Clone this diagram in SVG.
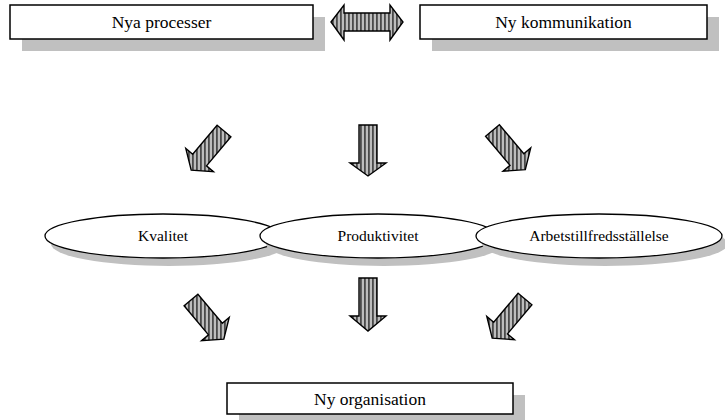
<svg xmlns="http://www.w3.org/2000/svg" width="725" height="420" viewBox="0 0 725 420">
  <defs>
    <!-- vertical hatching used inside the block arrows -->
    <pattern id="hatch" patternUnits="userSpaceOnUse" width="4" height="4">
      <rect width="4" height="4" fill="#bdbdbd"/>
      <rect x="0" width="1.8" height="4" fill="#4a4a4a"/>
    </pattern>
  </defs>
  <style>
    .shadow { fill: #c0c0c0; stroke: none; }
    .box { fill: #ffffff; stroke: #000000; stroke-width: 1.5; }
    .ell { fill: #ffffff; stroke: #000000; stroke-width: 1.3; }
    .arrow { fill: url(#hatch); stroke: #000000; stroke-width: 1.4; stroke-linejoin: miter; }
    text { font-family: 'Liberation Serif', 'DejaVu Serif', serif; fill: #000000; text-anchor: middle; }
    .big { font-size: 17.5px; }
    .small { font-size: 15.5px; }
  </style>

  <rect width="725" height="420" fill="#ffffff"/>

  <!-- top row -->
  <g id="nya-processer">
    <rect class="shadow" x="22" y="17" width="303" height="34"/>
    <rect class="box" x="10" y="5" width="303" height="34"/>
    <text class="big" x="161.5" y="28" font-family="Liberation Serif, serif">Nya processer</text>
  </g>

  <g id="ny-kommunikation">
    <rect class="shadow" x="432" y="17" width="287" height="34"/>
    <rect class="box" x="420" y="5" width="287" height="34"/>
    <text class="big" x="563.5" y="28" font-family="Liberation Serif, serif">Ny kommunikation</text>
  </g>

  <!-- middle row of overlapping ellipses -->
  <g id="kvalitet">
    <ellipse class="shadow" cx="169" cy="244" rx="118" ry="22"/>
    <ellipse class="ell" cx="163" cy="236" rx="118" ry="22"/>
    <text class="small" x="163" y="241" font-family="Liberation Serif, serif">Kvalitet</text>
  </g>

  <g id="produktivitet">
    <ellipse class="shadow" cx="384" cy="244" rx="118" ry="22"/>
    <ellipse class="ell" cx="378" cy="236" rx="118" ry="22"/>
    <text class="small" x="378" y="241" font-family="Liberation Serif, serif">Produktivitet</text>
  </g>

  <g id="arbetstillfredsstallelse">
    <ellipse class="shadow" cx="605" cy="244" rx="123" ry="22"/>
    <ellipse class="ell" cx="599" cy="236" rx="123" ry="22"/>
    <text class="small" x="599" y="241" font-family="Liberation Serif, serif">Arbetstillfredsställelse</text>
  </g>

  <!-- bottom box -->
  <g id="ny-organisation">
    <rect class="shadow" x="239" y="395" width="286" height="31"/>
    <rect class="box" x="227" y="383" width="286" height="31"/>
    <text class="big" x="370" y="405" font-family="Liberation Serif, serif">Ny organisation</text>
  </g>

  <!-- hatched block arrows -->
  <g id="connectors">
    <polygon class="arrow" points="331,22 344,5 344,13 390,13 390,5 403,22 390,40 390,31 344,31 344,40"/>

    <polygon class="arrow" points="217.1,125.2 230.9,136.8 206.5,165.9 213.4,171.7 191.2,170.1 185.8,148.5 192.7,154.3"/>
    <polygon class="arrow" points="359,125 377,125 377,163 386,163 368,176 350,163 359,163"/>
    <polygon class="arrow" points="485.6,136.3 499.4,124.7 523.8,153.8 530.7,148.0 525.3,169.6 503.1,171.2 510.0,165.4"/>

    <polygon class="arrow" points="184.1,305.8 197.9,294.2 222.3,323.3 229.2,317.5 223.8,339.1 201.6,340.7 208.5,334.9"/>
    <polygon class="arrow" points="359,278 377,278 377,316 386,316 368,331 350,316 359,316"/>
    <polygon class="arrow" points="518.1,293.2 531.9,304.8 507.5,333.9 514.4,339.7 492.2,338.1 486.8,316.5 493.7,322.3"/>
  </g>
</svg>
